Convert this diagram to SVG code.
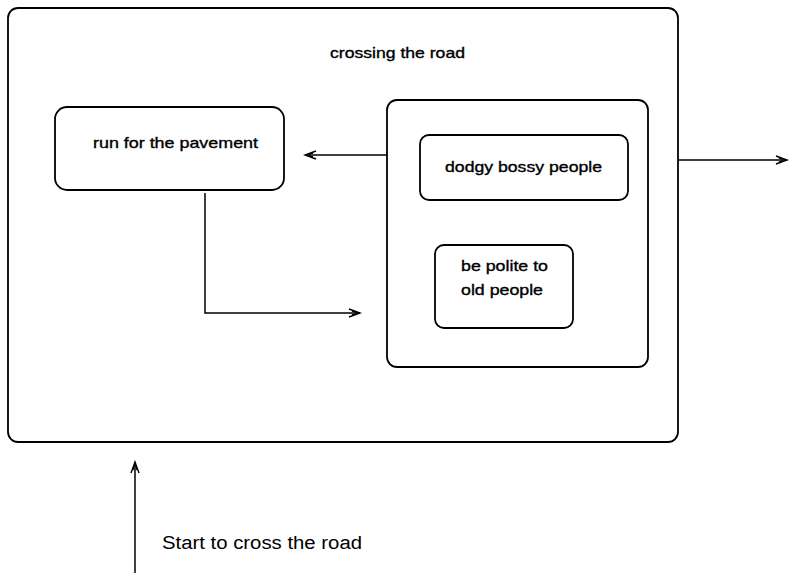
<svg xmlns="http://www.w3.org/2000/svg" width="789" height="573" viewBox="0 0 789 573">
  <style>
    .box { fill: none; stroke: #000; stroke-width: 1.8; }
    .edge { fill: none; stroke: #000; stroke-width: 1.5; }
    .lbl { font-family: "Liberation Sans", Arial, sans-serif; font-size: 15px; fill: #000; stroke: #000; stroke-width: 0.35; }
    .note { font-family: "Liberation Sans", Arial, sans-serif; font-size: 18px; fill: #000; }
  </style>
  <defs>
    <marker id="open" markerWidth="14" markerHeight="10" refX="12" refY="5" orient="auto" markerUnits="userSpaceOnUse">
      <path d="M1,1 L12,5 L1,9 M4,3 L12,5 L4,7" fill="none" stroke="#000" stroke-width="1.4"/>
    </marker>
  </defs>
  <rect width="789" height="573" fill="#fff"/>

  <g id="crossing-the-road">
    <rect class="box" x="8" y="8" width="670" height="434" rx="10"/>
    <text class="lbl" x="330" y="58" textLength="135" lengthAdjust="spacingAndGlyphs">crossing the road</text>
  </g>

  <g id="run-for-the-pavement">
    <rect class="box" x="55" y="107" width="229" height="83" rx="12"/>
    <text class="lbl" x="93" y="148" textLength="165" lengthAdjust="spacingAndGlyphs">run for the pavement</text>
  </g>

  <g id="people-states">
    <rect class="box" x="387" y="100" width="261" height="267" rx="10"/>
  </g>

  <g id="dodgy-bossy-people">
    <rect class="box" x="420" y="135" width="208" height="65" rx="9"/>
    <text class="lbl" x="445" y="172" textLength="157" lengthAdjust="spacingAndGlyphs">dodgy bossy people</text>
  </g>

  <g id="be-polite">
    <rect class="box" x="435" y="245" width="138" height="83" rx="9"/>
    <text class="lbl" x="461" y="271" textLength="87" lengthAdjust="spacingAndGlyphs">be polite to</text>
    <text class="lbl" x="461" y="295" textLength="82" lengthAdjust="spacingAndGlyphs">old people</text>
  </g>

  <g id="start-label">
    <text class="note" x="162" y="549" textLength="200" lengthAdjust="spacingAndGlyphs">Start to cross the road</text>
  </g>

  <g id="connectors">
    <line class="edge" x1="387" y1="155" x2="305" y2="155" marker-end="url(#open)"/>
    <polyline class="edge" points="205,193 205,313 360,313" marker-end="url(#open)"/>
    <line class="edge" x1="678" y1="160" x2="787" y2="160" marker-end="url(#open)"/>
    <line class="edge" x1="135" y1="573" x2="135" y2="462" marker-end="url(#open)"/>
  </g>
</svg>
